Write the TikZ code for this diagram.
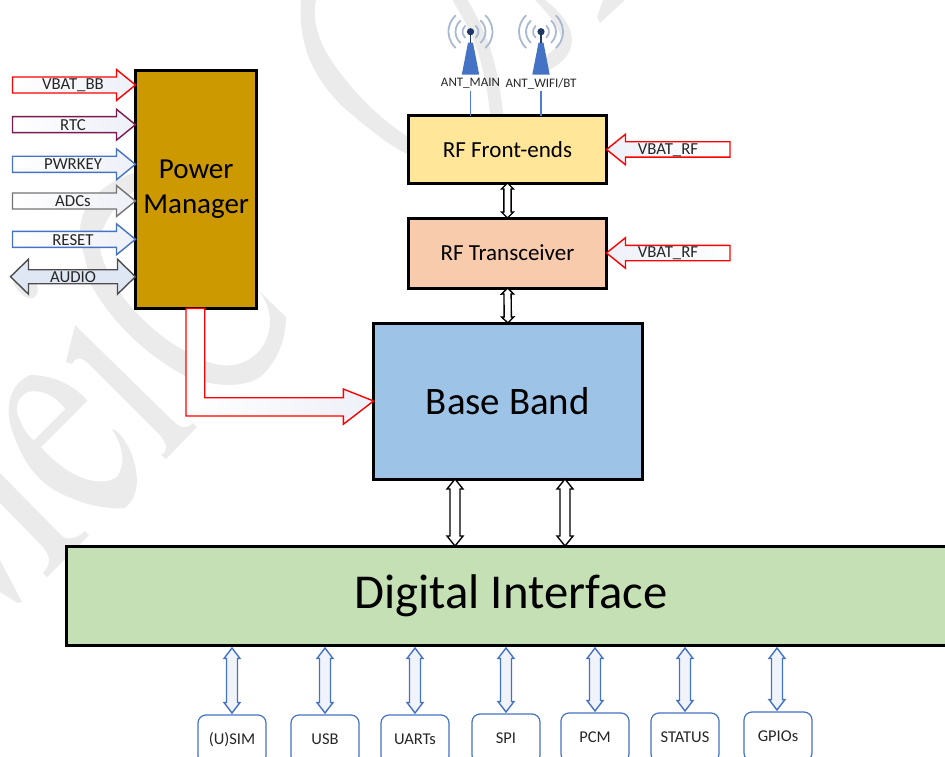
\documentclass[tikz,border=0pt]{standalone}
\usepackage{fontspec}
\setmainfont{Carlito}
\usetikzlibrary{calc}
\definecolor{wm}{HTML}{EBEBEB}
\definecolor{fade}{HTML}{EEF0F8}
\definecolor{rfblue}{HTML}{4472C4}
\tikzset{
  x=1pt,y=-1pt,
  box/.style={draw=black,line width=3pt,inner sep=0pt,outer sep=0pt,text=black},
  tag/.style={inner sep=0pt,outer sep=0pt,font=\fontsize{16.8}{16.8}\selectfont,text=black!85},
  port/.style={draw=rfblue,line width=1.2pt,rounded corners=8pt,fill=white,minimum width=68pt,minimum height=49pt,
    inner sep=0pt,outer sep=0pt,font=\fontsize{16.5}{16.5}\selectfont,text=black!85},
  size/.code args={#1/#2/#3}{\def\blkW{#1}\def\blkH{#2}\def\blkL{#3}},
  fadefill/.style={left color=white,right color=fade},
  singleblock/.style={line width=1.4pt,to path={
    let \p1=(\tikztostart),\p2=(\tikztotarget),\p3=($(\p2)!\blkL pt!(\p1)$) in
    ($(\p1)!\blkW pt!90:(\p2)$) -- ($(\p3)!\blkW pt!-90:(\p1)$) -- ($(\p3)!\blkH pt!-90:(\p1)$) -- (\p2)
    -- ($(\p3)!\blkH pt!90:(\p1)$) -- ($(\p3)!\blkW pt!90:(\p1)$) -- ($(\p1)!\blkW pt!-90:(\p2)$) -- cycle}},
  doubleblock/.style={line width=1.4pt,to path={
    let \p1=(\tikztostart),\p2=(\tikztotarget),\p3=($(\p2)!\blkL pt!(\p1)$),\p4=($(\p1)!\blkL pt!(\p2)$) in
    (\p1) -- ($(\p4)!\blkH pt!90:(\p2)$) -- ($(\p4)!\blkW pt!90:(\p2)$) -- ($(\p3)!\blkW pt!-90:(\p1)$) -- ($(\p3)!\blkH pt!-90:(\p1)$) -- (\p2)
    -- ($(\p3)!\blkH pt!90:(\p1)$) -- ($(\p3)!\blkW pt!90:(\p1)$) -- ($(\p4)!\blkW pt!-90:(\p2)$) -- ($(\p4)!\blkH pt!-90:(\p2)$) -- cycle}},
  wave/.style={draw={rgb,255:red,170;green,185;blue,210},line width=1.8pt,line cap=round},
  antenna/.pic={
    \foreach \r in {8,15,22}{
      \draw[wave] (-47:\r) arc[start angle=-47,end angle=47,radius=\r];
      \draw[wave] (133:\r) arc[start angle=133,end angle=227,radius=\r];
    }
    \fill[rfblue] (-2.5,11) -- (2.5,11) -- (8.7,43) -- (-8.7,43) -- cycle;
    \draw[draw={rgb,255:red,31;green,56;blue,100},line width=1.4pt] (0,0) -- (0,11);
    \fill[fill={rgb,255:red,31;green,56;blue,100}] (0,0) circle[radius=3.6];
  },
}
\begin{document}
\begin{tikzpicture}
\useasboundingbox (0,0) rectangle (945,757);
% watermark
\begin{scope}
\fill[wm] (87.3,400.7) .. controls (70,380) and (45,375) .. (30,375) .. controls (8,385) and (5,410) .. (12,430)
  .. controls (25,470) and (45,490) .. (77,500) .. controls (85,505) and (115,510) .. (125,508)
  .. controls (140,495) and (140,475) .. (130,450) .. controls (125,440) and (118,430) .. (112,429)
  .. controls (125,450) and (125,465) .. (117,477) .. controls (105,485) and (85,482) .. (67,470)
  .. controls (55,462) and (48,455) .. (41,447) -- cycle;
\fill[white] (65,409) .. controls (55,395) and (40,389) .. (28,392) .. controls (15,398) and (15,412) .. (20,420)
  .. controls (23,428) and (28,436) .. (34,440) -- cycle;
\fill[wm] (75,325) -- (66,362) -- (72,364) .. controls (75,358) and (80,355) .. (90,365) -- (160,435)
  .. controls (168,445) and (168,452) .. (161,455) -- (166,459) -- (197,427) -- (193,423)
  .. controls (185,430) and (180,428) .. (172,420) -- cycle;
\fill[wm] (0,473) -- (63,537) .. controls (70,540) and (78,538) .. (85,531) -- (89,535) -- (47,577) -- (43,573)
  .. controls (50,565) and (52,558) .. (43,547) -- (0,503) -- cycle;
\fill[wm] (0,560) -- (22,602) -- (18,603) -- (0,592) -- cycle;
\fill[wm] (180,150) -- (133,173) .. controls (100,185) and (80,205) .. (80,232)
  .. controls (82,255) and (90,272) .. (90,283) .. controls (110,320) and (145,355) .. (187,377)
  .. controls (210,385) and (240,390) .. (260,377) .. controls (280,360) and (286,335) .. (286,317)
  -- (258,290) .. controls (275,310) and (272,335) .. (260,350) .. controls (245,368) and (220,370) .. (197,357)
  .. controls (170,345) and (145,325) .. (123,297) .. controls (110,275) and (100,260) .. (100,245)
  .. controls (100,225) and (115,205) .. (133,192) -- (180,170) -- cycle;
\fill[wm] (13,283) .. controls (20,295) and (28,300) .. (33,298) .. controls (39,295) and (39,288) .. (36,283) -- cycle;
\fill[wm] (301,0) .. controls (298,40) and (310,75) .. (343,107) .. controls (370,130) and (395,150) .. (410,155)
  -- (410,138) .. controls (380,120) and (345,85) .. (325,50) .. controls (315,30) and (313,15) .. (316,0) -- cycle;
\draw[wm,line width=13pt] (458,-3) .. controls (475,25) and (490,50) .. (497,117);
\fill[wm] (545,0) .. controls (565,15) and (572,30) .. (572,40) .. controls (572,55) and (560,65) .. (545,72)
  -- (540,60) .. controls (552,52) and (561,45) .. (561,37) .. controls (558,25) and (545,10) .. (535,0) -- cycle;
\fill[wm] (597,17) -- (600,23) -- (625,0) -- (603,0) -- cycle;
\end{scope}
% blocks
\node[box,fill={rgb,255:red,204;green,153;blue,0},minimum width=121.5pt,minimum height=238.3pt,
  font=\fontsize{29}{35}\selectfont] (pm) at (196.2,189.2) {\raisebox{-3pt}{\begin{tabular}{@{}c@{}}Power\\Manager\end{tabular}}};
\node[box,fill={rgb,255:red,255;green,230;blue,153},minimum width=198pt,minimum height=67pt,font=\fontsize{23}{23}\selectfont] (rf) at (507.5,149.5) {RF Front-ends};
\node[box,fill={rgb,255:red,248;green,203;blue,173},minimum width=198pt,minimum height=70pt,font=\fontsize{23}{23}\selectfont] (tr) at (507.5,253) {RF Transceiver};
\node[box,fill={rgb,255:red,157;green,195;blue,230},minimum width=268.5pt,minimum height=156pt,font=\fontsize{38.9}{38.9}\selectfont] (bb) at (507.8,401) {Base Band};
\node[box,fill={rgb,255:red,197;green,224;blue,180},minimum width=890pt,minimum height=99pt,font=\fontsize{48.7}{48.7}\selectfont] (di) at (511,595.5) {\raisebox{-5pt}{Digital Interface}};
% left inputs
\coordinate (vbatbb) at (12.5,85);
\coordinate (rtc) at (12.5,124.7);
\coordinate (pwrkey) at (12.5,164.3);
\coordinate (adcs) at (12.5,201);
\coordinate (reset) at (12.5,239.3);
\coordinate (audio) at (10.5,276.7);
\draw[size=8/15.5/19,draw=red,fadefill,singleblock] (vbatbb) to (vbatbb -| pm.west);
\draw[size=8/15.5/19,draw={rgb,255:red,123;green,25;blue,80},fadefill,singleblock] (rtc) to (rtc -| pm.west);
\draw[size=8/15.5/19,draw=rfblue,fadefill,singleblock] (pwrkey) to (pwrkey -| pm.west);
\draw[size=8/15.5/19,draw=black!55,fadefill,singleblock] (adcs) to (adcs -| pm.west);
\draw[size=8/15.5/19,draw=rfblue,fadefill,singleblock] (reset) to (reset -| pm.west);
\draw[size=7/17.5/18,draw=black!70,fill={rgb,255:red,222;green,231;blue,243},doubleblock] (audio) to (audio -| pm.west);
\node[tag] (tvbatbb) at (73,85) {VBAT\_BB};
\node[tag] (trtc) at (73,125.5) {RTC};
\node[tag] (tpwrkey) at (73,164.5) {PWRKEY};
\node[tag] (tadcs) at (73,201.5) {ADCs};
\node[tag] (treset) at (73,240.5) {RESET};
\node[tag] (taudio) at (73,277.5) {AUDIO};
% right inputs
\coordinate (vrf1) at (730,149.5);
\coordinate (vrf2) at (730,253);
\draw[size=7.7/15.3/19,draw=red,left color=fade,right color=white,singleblock] (vrf1) to (rf.east);
\draw[size=7.7/15.3/19,draw=red,left color=fade,right color=white,singleblock] (vrf2) to (tr.east);
\node[tag] (tvrf1) at (668,150) {VBAT\_RF};
\node[tag] (tvrf2) at (668,253) {VBAT\_RF};
% L arrow
\draw[line width=1.4pt,draw=red,fadefill] (186,308.3) -- (186,416) -- (343.3,416) -- (343.3,424.3) -- (bb.west)
  -- (343.3,389) -- (343.3,397.7) -- (204.7,397.7) -- (204.7,308.3) -- cycle;
% inner links
\draw[size=3.6/6/6,draw=black,fill=white,doubleblock] (rf.south) to (tr.north);
\draw[size=3.6/6/6,draw=black,fill=white,doubleblock] (tr.south) to (bb.north);
\coordinate (bb1) at (455,479);
\coordinate (bb2) at (565,479);
\draw[size=5/8/10,draw=black,fill=white,doubleblock] (bb1) to (bb1 |- di.north);
\draw[size=5/8/10,draw=black,fill=white,doubleblock] (bb2) to (bb2 |- di.north);
% ports
\node[port] (p1) at (232,739.5) {(U)SIM};
\node[port] (p2) at (325,739.5) {USB};
\node[port] (p3) at (415,739.5) {UARTs};
\node[port] (p4) at (506,738.5) {SPI};
\node[port] (p5) at (595,737.5) {PCM};
\node[port] (p6) at (685,737.5) {STATUS};
\node[port] (p7) at (778,736.5) {GPIOs};
\foreach \n/\xx in {1/232,2/325,3/415,4/506,5/595,6/685,7/777}{
  \coordinate (dtop\n) at (\xx,648);
  \draw[size=5.5/8/10.5,draw=rfblue,fill={rgb,255:red,240;green,243;blue,250},doubleblock] (dtop\n) to ($(dtop\n |- p\n.north)+(0,-2)$);
}
% antennas
\node[inner sep=0pt,outer sep=0pt,minimum height=16pt,font=\fontsize{13}{13}\selectfont,text=black!85] (am) at (470.5,83.5) {ANT\_MAIN};
\node[inner sep=0pt,outer sep=0pt,minimum height=16pt,font=\fontsize{13}{13}\selectfont,text=black!85] (aw) at (541,83.5) {ANT\_WIFI/BT};
\draw[line width=1.4pt,draw={rgb,255:red,80;green,125;blue,210}] (am.south) -- (am.south |- rf.north);
\draw[line width=1.4pt,draw={rgb,255:red,80;green,125;blue,210}] (aw.south) -- (aw.south |- rf.north);
\pic at (470.5,31.7) {antenna};
\pic at (541,31.7) {antenna};
\end{tikzpicture}
\end{document}
